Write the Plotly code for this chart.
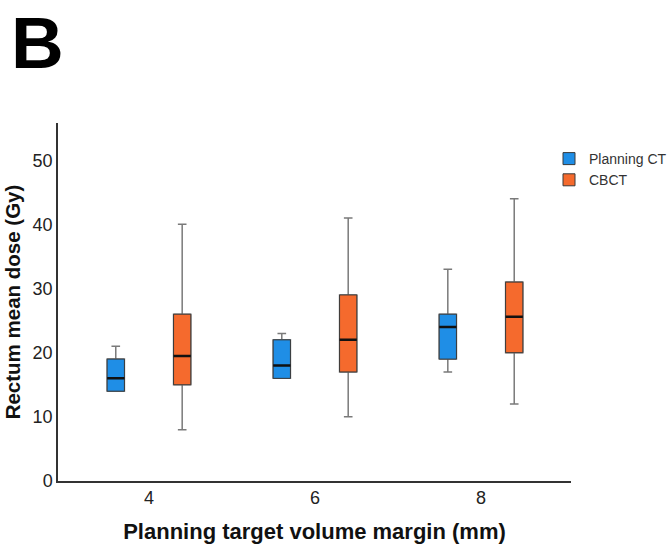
import plotly.graph_objects as go

categories = ["4", "6", "8"]
series_names = ["Planning CT", "CBCT"]

pct_min = [14, 16, 17]
pct_q1 = [14, 16, 19]
pct_median = [16, 18, 24]
pct_q3 = [19, 22, 26]
pct_max = [21, 23, 33]

cbct_min = [8, 10, 12]
cbct_q1 = [15, 17, 20]
cbct_median = [19.5, 22, 25.6]
cbct_q3 = [26, 29, 31]
cbct_max = [40, 41, 44]

colors = ["#1F8EE6", "#F56A2D"]

fig = go.Figure()

series = [
    (series_names[0], pct_min, pct_q1, pct_median, pct_q3, pct_max, colors[0], "pct"),
    (series_names[1], cbct_min, cbct_q1, cbct_median, cbct_q3, cbct_max, colors[1], "cbct"),
]

# Layer 1: whiskers (gray)
for name, mn, q1, md, q3, mx, col, grp in series:
    fig.add_trace(go.Box(
        x=categories, lowerfence=mn, q1=q1, median=md, q3=q3, upperfence=mx,
        name=name, offsetgroup=grp, showlegend=False,
        fillcolor=col, line=dict(color="#7a7a7a", width=1.5),
        whiskerwidth=0.5, hoverinfo="skip",
    ))

# Layer 2: boxes with dark outline
for name, mn, q1, md, q3, mx, col, grp in series:
    fig.add_trace(go.Box(
        x=categories, lowerfence=q1, q1=q1, median=md, q3=q3, upperfence=q3,
        name=name, offsetgroup=grp, showlegend=True,
        fillcolor=col, line=dict(color="#3a3a3a", width=1),
        whiskerwidth=0,
    ))

# Layer 3: median lines (black, thick)
for name, mn, q1, md, q3, mx, col, grp in series:
    fig.add_trace(go.Box(
        x=categories, lowerfence=md, q1=md, median=md, q3=md, upperfence=md,
        name=name, offsetgroup=grp, showlegend=False,
        fillcolor=col, line=dict(color="#111111", width=2.5),
        whiskerwidth=0, hoverinfo="skip",
    ))

fig.update_layout(
    width=669, height=549,
    margin=dict(l=58, r=98, t=123, b=68, autoexpand=False),
    paper_bgcolor="white", plot_bgcolor="white",
    boxmode="group", boxgap=0.2, boxgroupgap=0.74,
    font=dict(family="Liberation Sans, Arial, sans-serif", color="#222222"),
    showlegend=True,
    legend=dict(
        x=(549 - 58) / 513, y=1 - (143 - 123) / 358, xanchor="left", yanchor="top",
        font=dict(size=14, color="#333333"), bgcolor="rgba(0,0,0,0)",
        tracegroupgap=0, itemwidth=30,
    ),
    xaxis=dict(
        type="category", range=[-0.548, 2.542],
        showline=True, linecolor="#333333", linewidth=1.5,
        showgrid=False, zeroline=False, ticks="",
        tickfont=dict(size=18, color="#222222"),
        title=dict(text="<b>Planning target volume margin (mm)</b>",
                   font=dict(size=22, color="#111111"), standoff=16),
    ),
    yaxis=dict(
        range=[0, 55.8], tickvals=[0, 10, 20, 30, 40, 50],
        showline=True, linecolor="#333333", linewidth=1.5,
        showgrid=False, zeroline=False, ticks="",
        tickfont=dict(size=18, color="#222222"),
        title=dict(text="<b>Rectum mean dose (Gy)</b>",
                   font=dict(size=20.5, color="#111111"), standoff=6),
    ),
    annotations=[dict(
        text="<b>B</b>", xref="paper", yref="paper",
        x=(10 - 58) / 513, y=1 + 122 / 358, xanchor="left", yanchor="top",
        showarrow=False, borderpad=0, font=dict(size=73, color="black",
                                   family="Liberation Sans, Arial, sans-serif"),
    )],
)

fig.write_html("out.html")
